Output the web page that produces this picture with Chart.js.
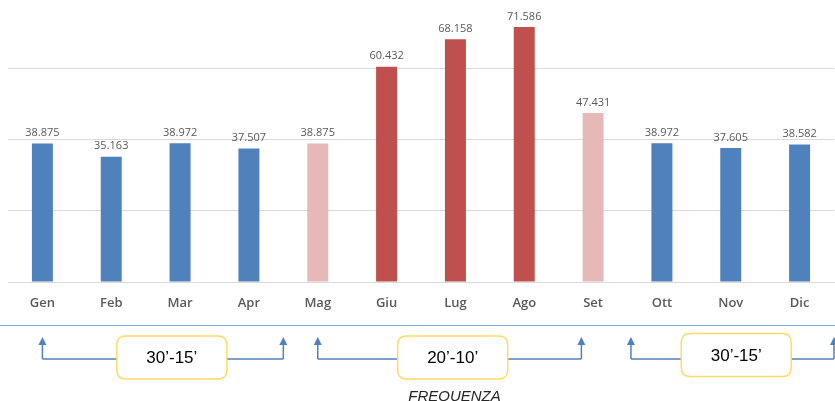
<!DOCTYPE html>
<html>
<head>
<meta charset="utf-8">
<script src="https://cdn.jsdelivr.net/npm/chart.js@4/dist/chart.umd.min.js"></script>
<style>
  html, body { margin: 0; padding: 0; background: #fff; overflow: hidden; }
  #wrap { position: absolute; left: 0; top: -3px; width: 835px; height: 404px; }
</style>
</head>
<body>
<div id="wrap"><canvas id="c"></canvas></div>
<script>
// Monthly frequency data
const months = ['Gen', 'Feb', 'Mar', 'Apr', 'Mag', 'Giu', 'Lug', 'Ago', 'Set', 'Ott', 'Nov', 'Dic'];
const values = [38875, 35163, 38972, 37507, 38875, 60432, 68158, 71586, 47431, 38972, 37605, 38582];
// Season of each month: low, shoulder, high
const season = ['low', 'low', 'low', 'low', 'mid', 'high', 'high', 'high', 'mid', 'low', 'low', 'low'];
const seasonColors = { low: '#4f81bd', mid: '#e6b9b8', high: '#c0504d' };

// Frequency bands shown below the axis: start/end in category units, label
const bandStarts = [0, 4, 8.55];
const bandEnds = [3.5, 7.83, 11.5];
const bandLabels = ['30\u2019-15\u2019', '20\u2019-10\u2019', '30\u2019-15\u2019'];
const bandBoxCenters = [1.88, 5.96, 10.08];
const footerTitle = 'FREQUENZA';

function fmt(v) {
  const s = String(Math.round(v));
  return s.replace(/\B(?=(\d{3})+(?!\d))/g, '.');
}

const valueLabels = {
  id: 'valueLabels',
  afterDatasetsDraw(chart) {
    const ctx = chart.ctx;
    const meta = chart.getDatasetMeta(0);
    ctx.save();
    ctx.font = '11px "Open Sans"';
    ctx.fillStyle = '#595959';
    ctx.textAlign = 'center';
    ctx.textBaseline = 'bottom';
    meta.data.forEach((bar, i) => {
      ctx.fillText(fmt(values[i]), bar.x, bar.y - 5);
    });
    ctx.restore();
  }
};

function roundRect(ctx, x, y, w, h, r) {
  ctx.beginPath();
  ctx.moveTo(x + r, y);
  ctx.lineTo(x + w - r, y);
  ctx.quadraticCurveTo(x + w, y, x + w, y + r);
  ctx.lineTo(x + w, y + h - r);
  ctx.quadraticCurveTo(x + w, y + h, x + w - r, y + h);
  ctx.lineTo(x + r, y + h);
  ctx.quadraticCurveTo(x, y + h, x, y + h - r);
  ctx.lineTo(x, y + r);
  ctx.quadraticCurveTo(x, y, x + r, y);
  ctx.closePath();
}

const bands = {
  id: 'bands',
  afterDraw(chart) {
    const ctx = chart.ctx;
    const xs = chart.scales.x;
    const px = v => xs.getPixelForValue(v);
    const off = 3; // canvas is shifted up by 3px
    const sepY = 325.5 + off, lineY = 359 + off, tipY = 337 + off;
    const boxW = 110, boxH = 43;
    ctx.save();
    // separator line
    ctx.strokeStyle = '#8aa8d6';
    ctx.lineWidth = 1;
    ctx.beginPath();
    ctx.moveTo(0, sepY); ctx.lineTo(chart.width, sepY);
    ctx.stroke();

    ctx.strokeStyle = '#4f81bd';
    ctx.fillStyle = '#4f81bd';
    ctx.lineWidth = 1.5;
    const arrow = (x) => {
      ctx.beginPath();
      ctx.moveTo(x, lineY); ctx.lineTo(x, tipY + 5);
      ctx.stroke();
      ctx.beginPath();
      ctx.moveTo(x, tipY); ctx.lineTo(x - 4, tipY + 8); ctx.lineTo(x + 4, tipY + 8);
      ctx.closePath(); ctx.fill();
    };
    bandStarts.forEach((s, i) => {
      const x0 = px(s), x1 = px(bandEnds[i]);
      ctx.beginPath();
      ctx.moveTo(x0, lineY); ctx.lineTo(x1, lineY);
      ctx.stroke();
      arrow(x0); arrow(x1);
    });
    bandLabels.forEach((t, i) => {
      const cx = px(bandBoxCenters[i]);
      const cy = (i === 2 ? 355 : 357.5) + off;
      ctx.fillStyle = '#ffffff';
      ctx.strokeStyle = '#ffd966';
      ctx.lineWidth = 1.5;
      roundRect(ctx, cx - boxW / 2, cy - boxH / 2, boxW, boxH, 9);
      ctx.fill(); ctx.stroke();
      ctx.fillStyle = '#000000';
      ctx.font = '17px "Liberation Sans"';
      ctx.textAlign = 'center';
      ctx.textBaseline = 'middle';
      ctx.fillText(t, cx, cy + 1);
      ctx.fillStyle = '#4f81bd';
      ctx.strokeStyle = '#4f81bd';
    });
    ctx.fillStyle = '#262626';
    ctx.font = 'italic 15px "Liberation Sans"';
    ctx.textAlign = 'center';
    ctx.textBaseline = 'alphabetic';
    ctx.fillText(footerTitle, 454.5, 400.7 + off);
    ctx.restore();
  }
};

new Chart(document.getElementById('c'), {
  type: 'bar',
  data: {
    labels: months,
    datasets: [{
      data: values,
      backgroundColor: season.map(s => seasonColors[s]),
      borderWidth: 0,
      categoryPercentage: 1,
      barPercentage: 0.305
    }]
  },
  options: {
    responsive: true,
    maintainAspectRatio: false,
    animation: false,
    layout: { padding: { left: 8, right: 1, top: 0, bottom: 79 } },
    plugins: { legend: { display: false }, tooltip: { enabled: false } },
    scales: {
      x: {
        grid: { display: false, drawTicks: false },
        border: { display: true, color: '#d9d9d9', width: 1 },
        ticks: {
          color: '#595959',
          font: { family: 'Open Sans', size: 13, weight: '600' },
          padding: 13,
          maxRotation: 0
        },
        afterFit(scale) { scale.height = 40; }
      },
      y: {
        display: true,
        min: 0,
        max: 80000,
        ticks: { display: false, stepSize: 20000 },
        grid: { color: '#d9d9d9', lineWidth: 1, drawTicks: false },
        border: { display: false },
        afterFit(scale) { scale.width = 0; }
      }
    }
  },
  plugins: [valueLabels, bands]
});
</script>
</body>
</html>
